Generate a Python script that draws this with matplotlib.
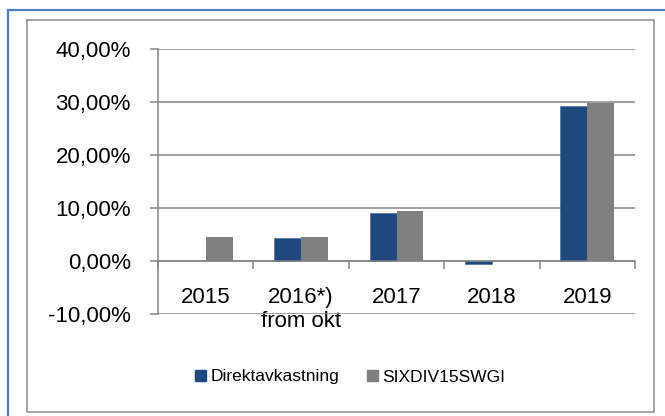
import numpy as np
import matplotlib
matplotlib.use("Agg")
import matplotlib.pyplot as plt
from matplotlib.patches import Patch
from matplotlib.lines import Line2D
from matplotlib.ticker import FuncFormatter, FixedLocator

# ===== DATA =====
years = ["2015", "2016*)\nfrom okt", "2017", "2018", "2019"]
direktavkastning = [np.nan, 4.4, 9.0, -0.5, 29.2]
sixdiv15swgi = [4.6, 4.5, 9.4, np.nan, 29.9]
series_names = ["Direktavkastning", "SIXDIV15SWGI"]

# ===== STYLE =====
BLUE = "#1F497D"
GREY = "#808080"
AXIS_GREY = "#868686"
W, H = 665, 416

plt.rcParams["font.family"] = ["Liberation Sans", "DejaVu Sans"]

fig = plt.figure(figsize=(W / 100, H / 100), dpi=100)

def px(x, y):
    # pixel coords (top-left origin) -> figure fraction
    return x / W, 1 - y / H

# outer blue frame (left and top visible)
x0, y0 = px(8, 10)
fig.add_artist(Line2D([x0, x0], [0, y0], color="#4F81BD", lw=1.6, transform=fig.transFigure))
fig.add_artist(Line2D([x0, 1], [y0, y0], color="#4F81BD", lw=1.6, transform=fig.transFigure))

# inner grey chart border
l, t = px(27, 20)
r, b = px(654, 412)
fig.add_artist(Line2D([l, r, r, l, l], [t, t, b, b, t], color="#8C8C8C", lw=1.1,
                      transform=fig.transFigure))

ax_l, ax_t = px(158, 49)
ax_r, ax_b = px(635, 314)
ax = fig.add_axes([ax_l, ax_b, ax_r - ax_l, ax_t - ax_b])

x = np.arange(len(years))
bw = 0.283
ax.bar(x - bw / 2, direktavkastning, bw, color=BLUE, edgecolor="#3A65A0", lw=0.4, zorder=3)
ax.bar(x + bw / 2, sixdiv15swgi, bw, color=GREY, zorder=3)

ax.set_xlim(-0.5, len(years) - 0.5)
ax.set_ylim(-10, 40)

ax.yaxis.set_major_locator(FixedLocator([-10, 0, 10, 20, 30, 40]))
ax.yaxis.set_major_formatter(FuncFormatter(lambda v, p: f"{v:.2f}%".replace(".", ",")))
ax.grid(axis="y", color=AXIS_GREY, lw=1.1, zorder=0)

for s in ["top", "right"]:
    ax.spines[s].set_visible(False)
ax.spines["bottom"].set_position(("data", 0))
for s in ["left", "bottom"]:
    ax.spines[s].set_color(AXIS_GREY)
    ax.spines[s].set_linewidth(1.1)
    ax.spines[s].set_zorder(4)

# boundary ticks, labels at category centres
ax.set_xticks(np.arange(-0.5, len(years), 1.0))
ax.set_xticklabels([])
ax.set_xticks(x, minor=True)
ax.set_xticklabels(years, minor=True, fontsize=16, linespacing=1.15)
ax.tick_params(axis="x", which="major", length=5.5, width=1.1, color=AXIS_GREY, direction="out")
ax.tick_params(axis="x", which="minor", length=0, pad=19)
ax.tick_params(axis="y", length=6, width=1.1, color=AXIS_GREY, labelsize=16, pad=13.5)

handles = [Patch(color=BLUE), Patch(color=GREY)]
lx, ly = px(350, 377)
fig.legend(handles, series_names, loc="center", bbox_to_anchor=(lx, ly), ncol=2,
           frameon=False, fontsize=12.5, handlelength=0.65, handleheight=0.65,
           handletextpad=0.25, columnspacing=1.6)

fig.savefig("out.png", dpi=100)
